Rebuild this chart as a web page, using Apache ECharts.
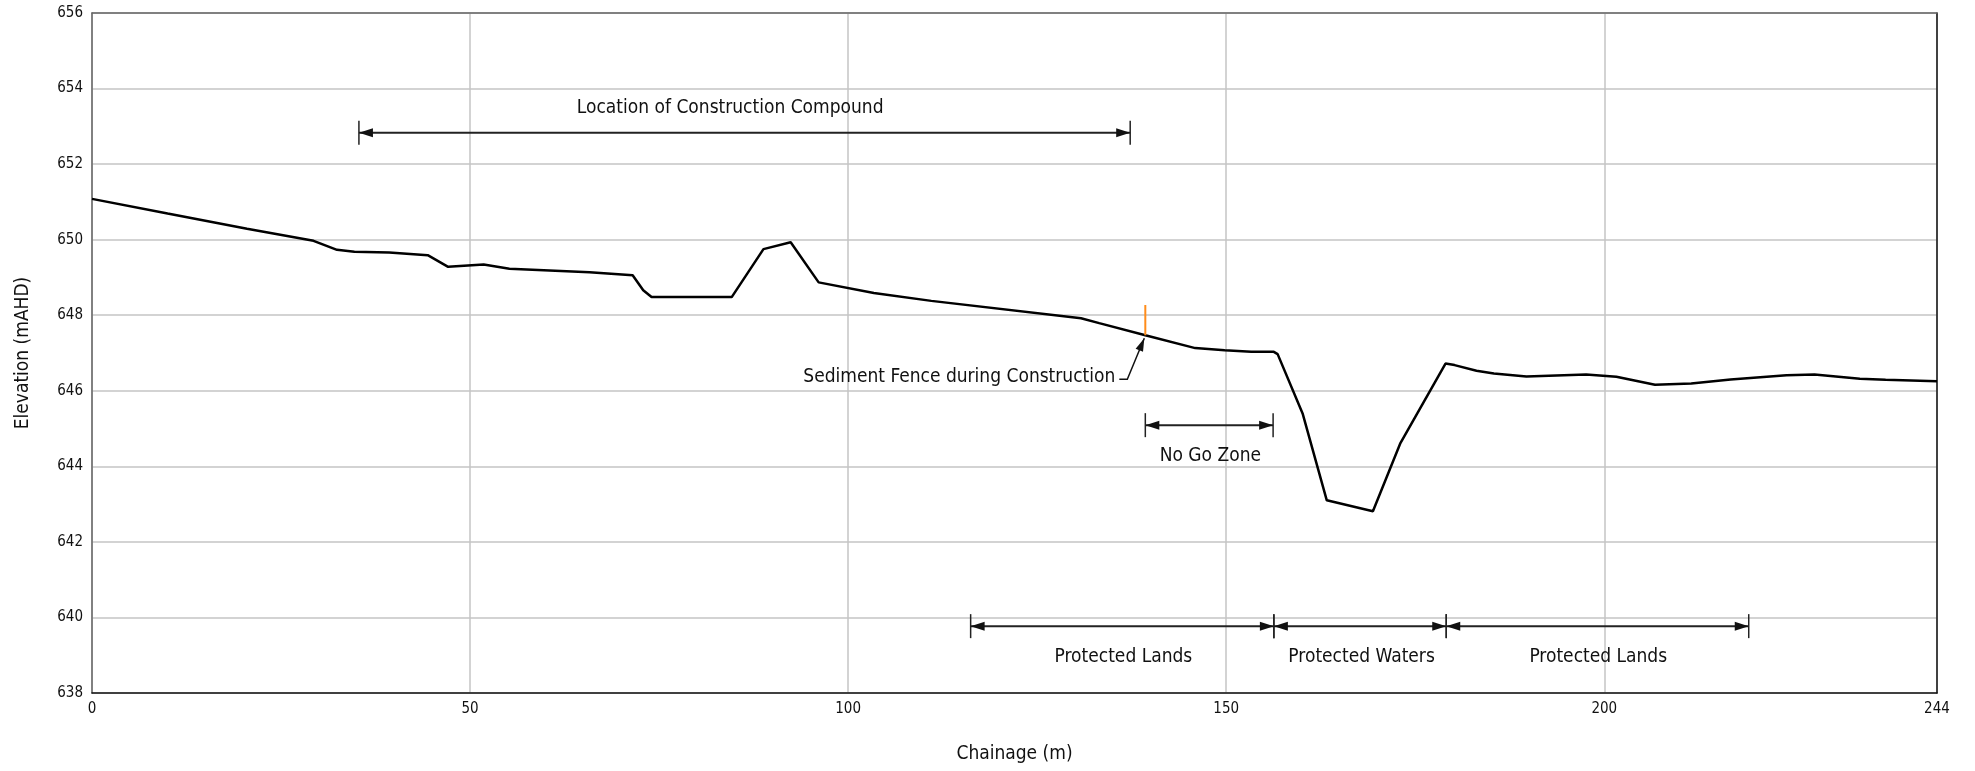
<!DOCTYPE html>
<html>
<head>
<meta charset="utf-8">
<script src="https://cdn.jsdelivr.net/npm/echarts@6/dist/echarts.min.js"></script>
<style>
  html, body { margin: 0; padding: 0; background: #fff; }
  #chart { width: 1975px; height: 771px; }
</style>
</head>
<body>
<div id="chart"></div>
<script>
// ground profile
const chainage = [0, 10, 20.5, 29.3, 32.4, 34.7, 39.3, 44.4, 47.1, 51.8, 55.2, 65.8, 71.5, 72.9, 74.0, 84.6, 88.8, 92.4, 96.1, 103.4, 111.0, 130.8, 133.2, 139.3, 145.9, 149.8, 153.3, 156.3, 156.8, 160.1, 163.3, 169.4, 173.0, 179.0, 180.2, 183.1, 185.4, 189.7, 197.6, 201.6, 206.7, 211.5, 216.7, 224.1, 227.8, 233.8, 237.2, 244];
const elevation = [651.08, 650.69, 650.29, 649.97, 649.73, 649.68, 649.66, 649.59, 649.28, 649.34, 649.23, 649.14, 649.06, 648.66, 648.48, 648.48, 649.75, 649.93, 648.87, 648.59, 648.38, 647.92, 647.79, 647.47, 647.13, 647.07, 647.03, 647.03, 646.97, 645.40, 643.10, 642.81, 644.60, 646.72, 646.68, 646.53, 646.46, 646.38, 646.43, 646.37, 646.16, 646.19, 646.30, 646.41, 646.43, 646.32, 646.29, 646.25];

// dimension arrows (zones)
const zoneLabels = ['Location of Construction Compound', 'No Go Zone', 'Protected Lands', 'Protected Waters', 'Protected Lands'];
const zoneStart = [35.3, 139.3, 116.2, 156.3, 179.1];
const zoneEnd = [137.3, 156.2, 156.3, 179.1, 219.1];
const zoneLevel = [652.83, 645.09, 639.77, 639.77, 639.77];
const zoneLabelAt = [84.4, 147.9, 136.4, 167.9, 199.2];

// sediment fence
const fenceLabel = 'Sediment Fence during Construction';
const fenceChainage = [139.3];
const fenceBase = [647.47];
const fenceTop = [648.27];

// axis ticks
const xTicks = [0, 50, 100, 150, 200, 244];
const yTicks = [638, 640, 642, 644, 646, 648, 650, 652, 654, 656];

const FONT = '"Liberation Sans Narrow", "DejaVu Sans Condensed", "Roboto Condensed", sans-serif';

function arrowHead(tip, dx, dy, len, half) {
  const l = Math.sqrt(dx * dx + dy * dy);
  const ux = dx / l, uy = dy / l;
  const bx = tip[0] - ux * len, by = tip[1] - uy * len;
  return {
    type: 'polygon',
    shape: { points: [tip, [bx - uy * half, by + ux * half], [bx + uy * half, by - ux * half]] },
    style: { fill: '#111' }
  };
}

let myChart = echarts.init(document.getElementById('chart'));

let option = {
  animation: false,
  backgroundColor: '#fff',
  grid: { left: 92, right: 38, top: 13, bottom: 78 },
  xAxis: [
    {
      type: 'value',
      min: xTicks[0],
      max: xTicks[xTicks.length - 1],
      interval: 50,
      name: 'Chainage (m)',
      nameLocation: 'middle',
      nameGap: 52,
      nameTextStyle: { fontFamily: FONT, fontSize: 19, color: '#111' },
      axisLine: { show: true, lineStyle: { color: '#111', width: 1.5 } },
      axisTick: { show: false },
      axisLabel: { fontFamily: FONT, fontSize: 15, color: '#111', margin: 9 },
      splitLine: { show: true, lineStyle: { color: '#c4c4c4', width: 1.5 } }
    },
    {
      type: 'value',
      position: 'top',
      min: xTicks[0],
      max: xTicks[xTicks.length - 1],
      axisLine: { show: true, onZero: false, lineStyle: { color: '#666', width: 1.5 } },
      axisTick: { show: false },
      axisLabel: { show: false },
      splitLine: { show: false }
    }
  ],
  yAxis: [
    {
      type: 'value',
      min: yTicks[0],
      max: yTicks[yTicks.length - 1],
      interval: 2,
      name: 'Elevation (mAHD)',
      nameLocation: 'middle',
      nameGap: 59,
      nameTextStyle: { fontFamily: FONT, fontSize: 19, color: '#111' },
      axisLine: { show: true, lineStyle: { color: '#666', width: 1.5 } },
      axisTick: { show: false },
      axisLabel: { fontFamily: FONT, fontSize: 15, color: '#111', margin: 9 },
      splitLine: { show: true, lineStyle: { color: '#c4c4c4', width: 1.5 } }
    },
    {
      type: 'value',
      position: 'right',
      min: yTicks[0],
      max: yTicks[yTicks.length - 1],
      axisLine: { show: true, onZero: false, lineStyle: { color: '#111', width: 1.5 } },
      axisTick: { show: false },
      axisLabel: { show: false },
      splitLine: { show: false }
    }
  ],
  series: [
    {
      name: 'Ground',
      type: 'line',
      data: chainage.map((c, i) => [c, elevation[i]]),
      symbol: 'none',
      lineStyle: { color: '#000', width: 2.5 },
      z: 5
    },
    {
      name: 'Zones',
      type: 'custom',
      clip: false,
      z: 6,
      data: zoneStart.map((s, i) => [s, zoneEnd[i], zoneLevel[i], zoneLabelAt[i], i]),
      renderItem: function (params, api) {
        const a = api.coord([api.value(0), api.value(2)]);
        const b = api.coord([api.value(1), api.value(2)]);
        const t = api.coord([api.value(3), api.value(2)]);
        const i = api.value(4);
        const above = i === 0;
        return {
          type: 'group',
          children: [
            { type: 'line', shape: { x1: a[0], y1: a[1], x2: b[0], y2: b[1] }, style: { stroke: '#222', lineWidth: 2 } },
            { type: 'line', shape: { x1: a[0], y1: a[1] - 12, x2: a[0], y2: a[1] + 12 }, style: { stroke: '#222', lineWidth: 1.5 } },
            { type: 'line', shape: { x1: b[0], y1: b[1] - 12, x2: b[0], y2: b[1] + 12 }, style: { stroke: '#222', lineWidth: 1.5 } },
            arrowHead(a, -1, 0, 14, 4.5),
            arrowHead(b, 1, 0, 14, 4.5),
            {
              type: 'text',
              style: {
                text: zoneLabels[i],
                x: t[0],
                y: above ? t[1] - 25 : t[1] + 31,
                align: 'center',
                verticalAlign: 'middle',
                fontFamily: FONT,
                fontSize: 19,
                fill: '#111'
              }
            }
          ]
        };
      }
    },
    {
      name: 'Fence',
      type: 'custom',
      clip: false,
      z: 7,
      data: fenceChainage.map((c, i) => [c, fenceBase[i], fenceTop[i]]),
      renderItem: function (params, api) {
        const base = api.coord([api.value(0), api.value(1)]);
        const top = api.coord([api.value(0), api.value(2)]);
        const p0 = [base[0] - 26, base[1] + 44];
        const p1 = [base[0] - 18, base[1] + 44];
        const tip = [base[0] - 1, base[1] + 3];
        return {
          type: 'group',
          children: [
            { type: 'line', shape: { x1: base[0], y1: base[1], x2: top[0], y2: top[1] }, style: { stroke: '#ff8c1a', lineWidth: 2 } },
            { type: 'polyline', shape: { points: [p0, p1, tip] }, style: { stroke: '#111', lineWidth: 1.5, fill: null } },
            arrowHead(tip, tip[0] - p1[0], tip[1] - p1[1], 13, 4),
            {
              type: 'text',
              style: {
                text: fenceLabel,
                x: base[0] - 30,
                y: base[1] + 42,
                align: 'right',
                verticalAlign: 'middle',
                fontFamily: FONT,
                fontSize: 19,
                fill: '#111'
              }
            }
          ]
        };
      }
    }
  ]
};

myChart.setOption(option);
</script>
</body>
</html>
